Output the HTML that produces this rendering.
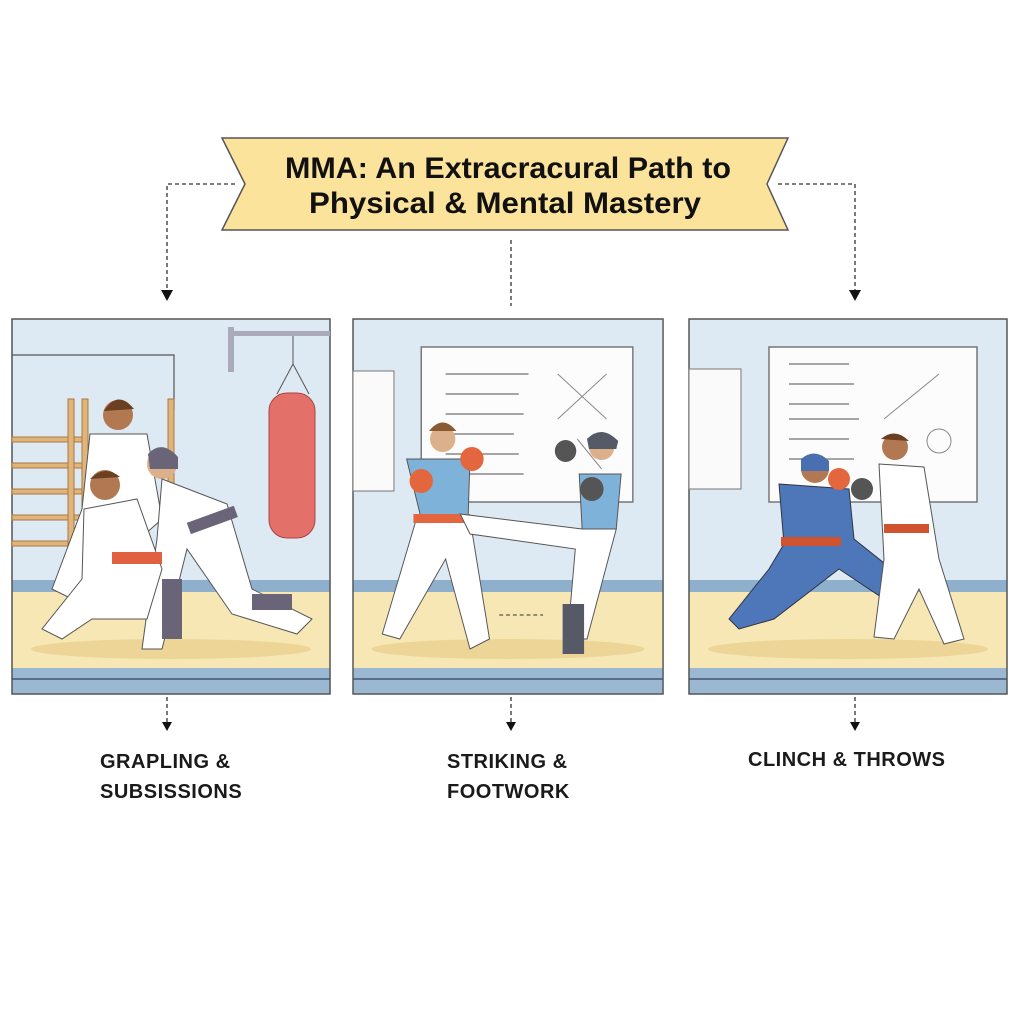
<!DOCTYPE html>
<html><head><meta charset="utf-8"><style>
body{margin:0;width:1024px;height:1024px;background:#fff;overflow:hidden;font-family:"Liberation Sans",sans-serif}
svg{position:absolute;left:0;top:0}
.lbl{position:absolute;font-weight:bold;font-size:20px;letter-spacing:0.5px;color:#1a1a1a;line-height:30px}
</style></head><body>
<svg width="1024" height="1024" viewBox="0 0 1024 1024">
<defs>
<g id="panelbg">
<rect x="0" y="0" width="318" height="375" fill="#dde9f3"/>
<rect x="0" y="261" width="318" height="12" fill="#8fb0cc"/>
<rect x="0" y="273" width="318" height="76" fill="#f6e7b4"/>
<ellipse cx="159" cy="330" rx="140" ry="10" fill="#ecd596"/>
<rect x="0" y="349" width="318" height="10" fill="#9bb8d3"/>
<rect x="0" y="359" width="318" height="2" fill="#5a6f85"/>
<rect x="0" y="361" width="318" height="14" fill="#9bb8d3"/>
<rect x="0" y="0" width="318" height="375" fill="none" stroke="#555" stroke-width="1.5"/>
</g>
</defs>
<!-- banner -->
<polygon points="222,138 788,138 767,184 788,230 222,230 245,184" fill="#fbe39c" stroke="#555" stroke-width="1.5"/>
<text x="508" y="178" text-anchor="middle" font-size="30" font-weight="bold" fill="#111" textLength="446" lengthAdjust="spacingAndGlyphs">MMA: An Extracracural Path to</text>
<text x="505" y="213" text-anchor="middle" font-size="30" font-weight="bold" fill="#111" textLength="392" lengthAdjust="spacingAndGlyphs">Physical &amp; Mental Mastery</text>
<!-- connectors -->
<g stroke="#333" stroke-width="1.3" stroke-dasharray="4,3" fill="none">
<path d="M235 184 H167 V290"/><path d="M511 240 V306"/><path d="M778 184 H855 V290"/>
<path d="M167 697 V722"/><path d="M511 697 V722"/><path d="M855 697 V722"/>
</g>
<g fill="#111">
<polygon points="161,290 173,290 167,301"/><polygon points="849,290 861,290 855,301"/>
<polygon points="162,722 172,722 167,731"/><polygon points="506,722 516,722 511,731"/><polygon points="850,722 860,722 855,731"/>
</g>
<!-- panel 1 -->
<g transform="translate(12,319)">
<use href="#panelbg"/>
<path d="M0 36 H162 V90" stroke="#555" fill="none" stroke-width="1.2"/>
<g fill="#e0b47a" stroke="#a87a44" stroke-width="1"><rect x="0" y="118" width="70" height="5"/><rect x="0" y="144" width="70" height="5"/><rect x="0" y="170" width="70" height="5"/><rect x="0" y="196" width="70" height="5"/><rect x="0" y="222" width="70" height="5"/><rect x="56" y="80" width="6" height="185"/><rect x="70" y="80" width="6" height="185"/><rect x="156" y="80" width="6" height="130"/></g>
<rect x="216" y="8" width="6" height="45" fill="#aab"/><rect x="216" y="12" width="102" height="5" fill="#aab"/>
<path d="M281 17V45 M281 45 L265 75 M281 45 L297 75" stroke="#555" fill="none"/>
<rect x="257" y="74" width="46" height="145" rx="18" fill="#e3716a" stroke="#a44" stroke-width="1"/>
<circle cx="106" cy="96" r="15" fill="#b27852"/><path d="M92 92 Q106 70 122 90" fill="#6a3f22"/>
<path d="M78 115 L135 115 L150 200 L60 280 L40 270 L70 190 Z" fill="#fff" stroke="#555"/>
<circle cx="150" cy="145" r="15" fill="#dcb08a"/><path d="M136 135 Q150 120 166 138 L166 150 L138 150 Z" fill="#6a6478"/>
<path d="M150 160 L215 185 L240 270 L300 300 L285 315 L220 295 L175 230 L150 330 L130 330 L145 220 Z" fill="#fff" stroke="#555"/>
<rect x="175" y="195" width="50" height="12" fill="#6a6478" transform="rotate(-20 200 200)"/>
<circle cx="93" cy="166" r="15" fill="#b27852"/><path d="M78 160 Q93 145 108 158" fill="#6a3f22"/>
<path d="M72 190 L125 180 L150 250 L135 300 L80 300 L50 320 L30 310 L70 260 Z" fill="#fff" stroke="#555"/>
<rect x="100" y="233" width="50" height="12" fill="#e06040"/>
<rect x="150" y="260" width="20" height="60" fill="#6a6478"/><rect x="240" y="275" width="40" height="16" fill="#6a6478"/>
</g>
<!-- panel 2 -->
<g transform="translate(353,319) scale(0.975,1)">
<use href="#panelbg"/>
<rect x="0" y="52" width="42" height="120" fill="#fafafa" stroke="#777"/>
<rect x="70" y="28" width="217" height="155" fill="#fcfcfc" stroke="#777" stroke-width="1.5"/>
<g stroke="#888" stroke-width="1.5"><path d="M95 55H180M95 75H170M95 95H175M95 115H165M95 135H170M95 155H175"/></g>
<path d="M210 55 L260 100 M210 100 L260 55 M230 120 L255 150" stroke="#888" fill="none"/>
<circle cx="92" cy="120" r="13" fill="#dcb08a"/><path d="M78 112 Q92 95 106 112" fill="#8a5a33"/>
<path d="M55 140 L120 140 L118 200 L70 200 Z" fill="#7fb2d9" stroke="#555"/>
<circle cx="70" cy="162" r="12" fill="#e3663f"/><circle cx="122" cy="140" r="12" fill="#e3663f"/>
<path d="M65 200 L120 200 L140 320 L120 330 L95 240 L48 320 L30 315 Z" fill="#fff" stroke="#555"/>
<rect x="62" y="195" width="58" height="9" fill="#e3663f"/>
<circle cx="255" cy="128" r="13" fill="#dcb08a"/><path d="M240 120 Q255 105 272 122 L270 130 L242 130Z" fill="#555a66"/>
<path d="M232 155 L275 155 L270 210 L235 210 Z" fill="#7fb2d9" stroke="#555"/>
<circle cx="218" cy="132" r="11" fill="#555"/><circle cx="245" cy="170" r="12" fill="#555"/>
<path d="M235 210 L270 210 L240 320 L220 320 L228 230 L120 215 L110 195 Z" fill="#fff" stroke="#555"/>
<rect x="215" y="285" width="22" height="50" fill="#555a66"/>
<path d="M150 296H195" stroke="#333" stroke-dasharray="4,3"/>
</g>
<!-- panel 3 -->
<g transform="translate(689,319)">
<use href="#panelbg"/>
<rect x="0" y="50" width="52" height="120" fill="#fafafa" stroke="#777"/>
<rect x="80" y="28" width="208" height="155" fill="#fcfcfc" stroke="#777" stroke-width="1.5"/>
<g stroke="#888" stroke-width="1.5"><path d="M100 45H160M100 65H165M100 85H160M100 100H170M100 120H160M100 140H165"/></g>
<circle cx="250" cy="122" r="12" fill="none" stroke="#888"/><path d="M195 100 L250 55" stroke="#888"/>
<circle cx="126" cy="150" r="14" fill="#b27852"/><path d="M112 140 Q126 128 140 142 L140 152 L112 152Z" fill="#4a6fb0"/>
<path d="M90 165 L160 170 L165 220 L215 260 L210 290 L150 250 L85 300 L50 310 L40 300 L80 250 L95 225 Z" fill="#4d77b8" stroke="#334"/>
<rect x="92" y="218" width="60" height="9" fill="#d0532f"/>
<circle cx="150" cy="160" r="11" fill="#e3663f"/><circle cx="173" cy="170" r="11" fill="#555"/>
<circle cx="206" cy="128" r="13" fill="#b27852"/><path d="M192 120 Q206 108 220 122" fill="#6a3f22"/>
<path d="M190 145 L235 148 L250 240 L275 320 L255 325 L230 270 L205 320 L185 318 L195 240 Z" fill="#fff" stroke="#555"/>
<rect x="195" y="205" width="45" height="9" fill="#d0532f"/>
</g>
</svg>
<div class="lbl" style="left:100px;top:747px">GRAPLING &amp;<br>SUBSISSIONS</div>
<div class="lbl" style="left:447px;top:747px">STRIKING &amp;<br>FOOTWORK</div>
<div class="lbl" style="left:748px;top:745px">CLINCH &amp; THROWS</div>
</body></html>
